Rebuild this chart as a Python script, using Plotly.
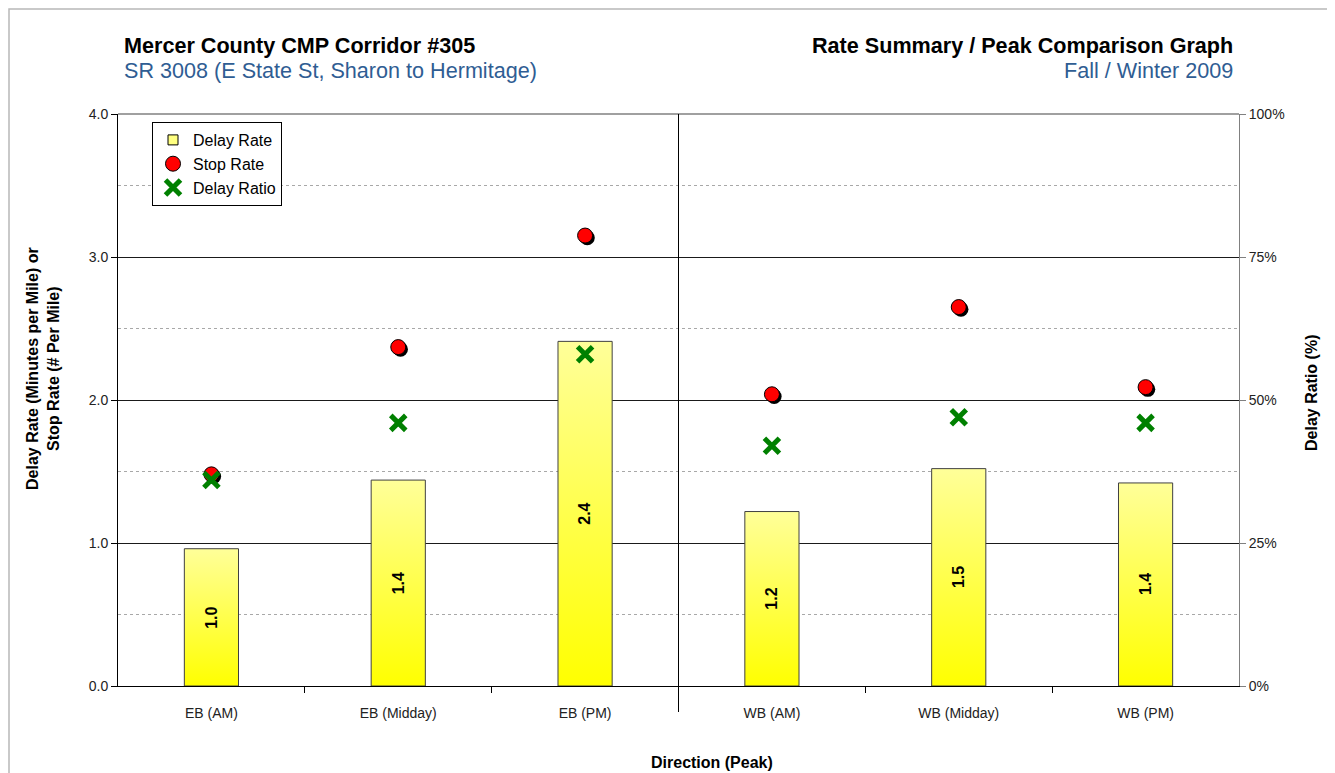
import plotly.graph_objects as go

categories = ["EB (AM)", "EB (Midday)", "EB (PM)", "WB (AM)", "WB (Midday)", "WB (PM)"]
delay_rate = [0.96, 1.44, 2.41, 1.22, 1.52, 1.42]
stop_rate = [1.48, 2.37, 3.15, 2.04, 2.65, 2.09]
delay_ratio = [36, 46, 58, 42, 47, 46]
left_ticks = [0, 1, 2, 3, 4]
right_ticks = [0, 25, 50, 75, 100]
right_labels = [f"{v}%" for v in right_ticks]

FONT = "Liberation Sans, Arial, sans-serif"
OFF = 8  # page body margin offset
W, H = 1335 - OFF, 773 - OFF
L, T = 118 - OFF, 114 - OFF
R = W - (1239 - OFF)
B = H - (686 - OFF)
PW, PH = W - L - R, H - T - B

def px_x(p):
    return (p - OFF - L) / PW

def px_y(p):
    return (H - B - (p - OFF)) / PH

fig = go.Figure()

xs = list(range(len(categories)))
hw = 0.145
for i, v in zip(xs, delay_rate):
    fig.add_trace(go.Scatter(
        x=[i - hw, i - hw, i + hw, i + hw, i - hw],
        y=[0, v, v, 0, 0],
        mode="lines", fill="toself",
        line=dict(color="#404040", width=1),
        fillgradient=dict(type="vertical", colorscale=[[0, "#FFFF00"], [1, "#FFFF99"]]),
        showlegend=False, hoverinfo="skip",
    ))

# legend entry for the bars
fig.add_trace(go.Scatter(
    x=[None], y=[None], mode="markers", name="Delay Rate",
    marker=dict(symbol="square", size=10, color="#FFFF80", line=dict(color="black", width=1)),
))

# shadow for stop-rate markers
dx, dy = 2.2 / (PW / 6), 2.2 / (PH / 4)
fig.add_trace(go.Scatter(
    x=[i + dx for i in xs], y=[v - dy for v in stop_rate], mode="markers",
    marker=dict(symbol="circle", size=15, color="black"),
    showlegend=False, hoverinfo="skip",
))
fig.add_trace(go.Scatter(
    x=xs, y=stop_rate, mode="markers", name="Stop Rate",
    marker=dict(symbol="circle", size=15, color="#FF0000", line=dict(color="black", width=1)),
))
fig.add_trace(go.Scatter(
    x=xs, y=delay_ratio, mode="markers", name="Delay Ratio", yaxis="y2",
    marker=dict(symbol="x-thin", size=15, color="#008000", line=dict(color="#008000", width=5)),
))

annotations = []
for i, v in zip(xs, delay_rate):
    annotations.append(dict(
        x=i, y=v / 2, xref="x", yref="y", text=f"<b>{v:.1f}</b>", textangle=-90,
        showarrow=False, font=dict(family=FONT, size=16, color="black"),
    ))

annotations += [
    dict(x=px_x(122), y=px_y(46), xref="paper", yref="paper", xanchor="left", yanchor="middle",
         text="<b>Mercer County CMP Corridor #305</b>", showarrow=False,
         font=dict(family=FONT, size=21.6, color="black")),
    dict(x=px_x(122), y=px_y(71), xref="paper", yref="paper", xanchor="left", yanchor="middle",
         text="SR 3008 (E State St, Sharon to Hermitage)", showarrow=False,
         font=dict(family=FONT, size=21.6, color="#2F5D93")),
    dict(x=px_x(1235), y=px_y(46), xref="paper", yref="paper", xanchor="right", yanchor="middle",
         text="<b>Rate Summary / Peak Comparison Graph</b>", showarrow=False,
         font=dict(family=FONT, size=21.6, color="black")),
    dict(x=px_x(1235), y=px_y(71), xref="paper", yref="paper", xanchor="right", yanchor="middle",
         text="Fall / Winter 2009", showarrow=False,
         font=dict(family=FONT, size=21.6, color="#2F5D93")),
    dict(x=px_x(43), y=px_y(369), xref="paper", yref="paper", xanchor="center", yanchor="middle",
         text="<b>Delay Rate (Minutes per Mile) or<br>Stop Rate (# Per Mile)</b>", textangle=-90,
         showarrow=False, font=dict(family=FONT, size=16, color="black")),
    dict(x=px_x(1311), y=px_y(393), xref="paper", yref="paper", xanchor="center", yanchor="middle",
         text="<b>Delay Ratio (%)</b>", textangle=-90,
         showarrow=False, font=dict(family=FONT, size=16, color="black")),
    dict(x=px_x(712), y=px_y(762), xref="paper", yref="paper", xanchor="center", yanchor="middle",
         text="<b>Direction (Peak)</b>", showarrow=False,
         font=dict(family=FONT, size=16, color="black")),
]

shapes = [
    dict(type="line", xref="paper", yref="paper", x0=0, x1=1, y0=1, y1=1,
         line=dict(color="#808080", width=1.5)),
    dict(type="line", xref="x", yref="paper", x0=2.5, x1=2.5, y0=px_y(712), y1=1,
         line=dict(color="black", width=1)),
    dict(type="rect", xref="paper", yref="paper", x0=px_x(9), x1=px_x(1333), y0=px_y(800), y1=px_y(9),
         line=dict(color="#B8B8B8", width=1.5)),
]

fig.update_layout(
    width=W, height=H,
    margin=dict(l=L, r=R, t=T, b=B),
    paper_bgcolor="white", plot_bgcolor="white",
    font=dict(family=FONT, size=14, color="#222222"),
    showlegend=True,
    legend=dict(x=px_x(152), y=px_y(122), xanchor="left", yanchor="top",
                bordercolor="black", borderwidth=1, bgcolor="white",
                font=dict(family=FONT, size=16, color="black"), itemwidth=30),
    xaxis=dict(range=[-0.5, 5.5], tickvals=xs, ticktext=categories, ticks="",
               showline=True, linecolor="black", linewidth=1, showgrid=False, zeroline=False,
               tickfont=dict(size=14, color="#222222"), ticklabelstandoff=14,
               minor=dict(tickvals=[0.5, 1.5, 3.5, 4.5], ticks="outside", ticklen=6,
                          tickcolor="black", showgrid=False)),
    yaxis=dict(range=[0, 4], tickvals=left_ticks, tickformat=".1f", ticks="outside", ticklen=6,
               tickcolor="black", showline=True, linecolor="black", linewidth=1,
               showgrid=True, gridcolor="#1a1a1a", gridwidth=1, zeroline=False,
               tickfont=dict(size=14, color="#222222"),
               minor=dict(dtick=0.5, showgrid=True, gridcolor="#A8A8A8", griddash="dot", gridwidth=1)),
    yaxis2=dict(range=[0, 100], tickvals=right_ticks, ticktext=right_labels, overlaying="y", side="right",
                ticks="outside", ticklen=6, tickcolor="#808080", showline=True, linecolor="#808080",
                showgrid=False, zeroline=False, tickfont=dict(size=14, color="#222222")),
    annotations=annotations,
    shapes=shapes,
)

fig.write_html("out.html")
